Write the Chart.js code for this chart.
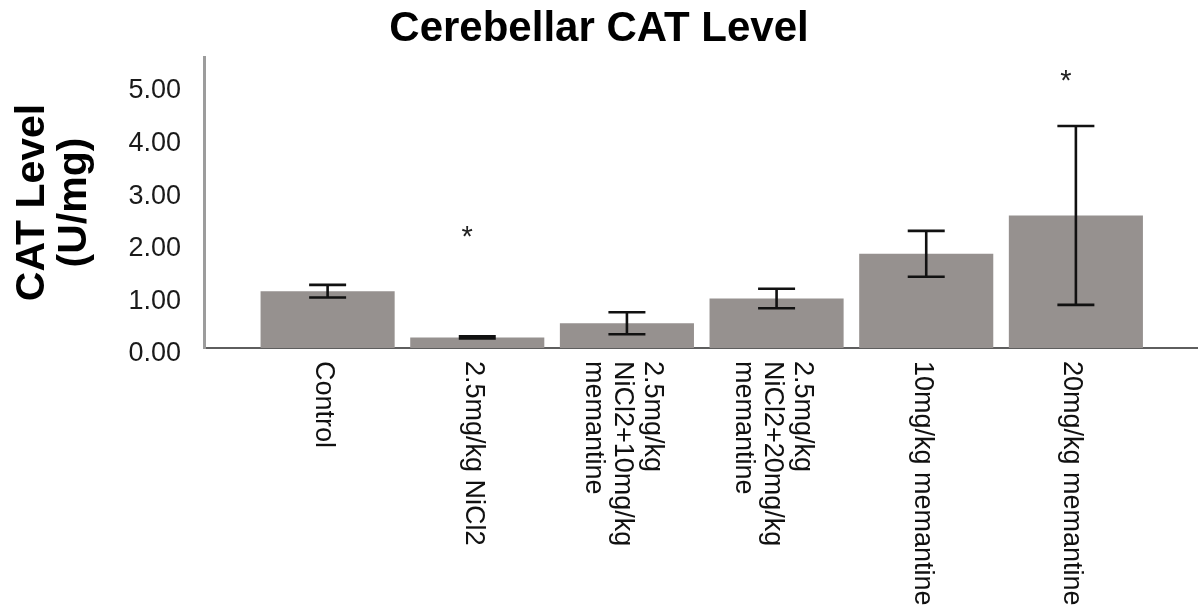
<!DOCTYPE html>
<html>
<head>
<meta charset="utf-8">
<title>Cerebellar CAT Level</title>
<style>
  html, body { margin: 0; padding: 0; background: #ffffff; }
  #wrap { width: 1198px; height: 614px; }
</style>
<script src="https://cdn.jsdelivr.net/npm/chart.js@4/dist/chart.umd.min.js"></script>
</head>
<body>
<div id="wrap"><canvas id="chart" width="1198" height="614"></canvas></div>
<script>
// Treatment groups (each entry = the lines of its axis label)
const groupLabels = [
  ['Control'],
  ['2.5mg/kg NiCl2'],
  ['2.5mg/kg', 'NiCl2+10mg/kg', 'memantine'],
  ['2.5mg/kg', 'NiCl2+20mg/kg', 'memantine'],
  ['10mg/kg memantine'],
  ['20mg/kg memantine']
];
// Mean CAT level (U/mg) per group
const catMeans = [1.08, 0.20, 0.47, 0.94, 1.79, 2.52];
// Error bar half-length (U/mg) per group
const catErrors = [0.12, 0.02, 0.21, 0.185, 0.435, 1.70];
// Height of the significance asterisk above each group (null = none)
const starLevels = [null, 2.26, null, null, null, 5.23];
// Value-axis tick labels
const yTicks = [0, 1, 2, 3, 4, 5];

const FONT = '"Liberation Sans", Arial, Helvetica, sans-serif';

// Error bars, significance marks and the rotated group labels
const overlay = {
  id: 'overlay',
  afterDatasetsDraw(chart) {
    const { ctx, scales: { x, y } } = chart;
    ctx.save();

    // error bars
    ctx.strokeStyle = '#111111';
    ctx.lineWidth = 2.6;
    ctx.lineCap = 'butt';
    const half = 18.5;
    catMeans.forEach((m, i) => {
      const cx = x.getPixelForValue(i);
      const hi = y.getPixelForValue(m + catErrors[i]);
      const lo = y.getPixelForValue(m - catErrors[i]);
      ctx.beginPath();
      ctx.moveTo(cx, hi); ctx.lineTo(cx, lo);
      ctx.moveTo(cx - half, hi); ctx.lineTo(cx + half, hi);
      ctx.moveTo(cx - half, lo); ctx.lineTo(cx + half, lo);
      ctx.stroke();
    });

    // asterisks
    ctx.fillStyle = '#222222';
    ctx.font = '29px ' + FONT;
    ctx.textAlign = 'center';
    ctx.textBaseline = 'alphabetic';
    starLevels.forEach((s, i) => {
      if (s === null) return;
      const cx = x.getPixelForValue(i) - 10;
      ctx.fillText('*', cx, y.getPixelForValue(s) + 17);
    });

    // group labels, rotated to read top-to-bottom
    const axisY = y.getPixelForValue(0);
    const lh = 29.5;
    ctx.fillStyle = '#111111';
    ctx.font = '27px ' + FONT;
    ctx.textAlign = 'left';
    ctx.textBaseline = 'middle';
    groupLabels.forEach((lines, i) => {
      const cx = x.getPixelForValue(i) - 4;
      const n = lines.length;
      ctx.save();
      ctx.translate(cx, axisY + 13);
      ctx.rotate(Math.PI / 2);
      lines.forEach((line, j) => {
        ctx.fillText(line, 0, (j - (n - 1) / 2) * lh);
      });
      ctx.restore();
    });

    ctx.restore();
  }
};

new Chart(document.getElementById('chart'), {
  type: 'bar',
  data: {
    datasets: [{
      data: catMeans.map((v, i) => ({ x: i, y: v })),
      backgroundColor: '#96918f',
      borderWidth: 0,
      categoryPercentage: 1.0,
      barPercentage: 0.896
    }]
  },
  options: {
    responsive: false,
    animation: false,
    devicePixelRatio: 1,
    layout: { padding: 0 },
    plugins: {
      legend: { display: false },
      tooltip: { enabled: false },
      title: {
        display: true,
        text: 'Cerebellar CAT Level',
        color: '#000000',
        font: { family: FONT, size: 42, weight: 'bold', lineHeight: 1.2 },
        padding: { top: 4, bottom: 2.6 }
      }
    },
    scales: {
      x: {
        type: 'linear',
        offset: false,
        min: -0.826,
        max: 5.816,
        z: 1,
        grid: { display: false },
        border: { display: true, color: '#5e5e5e', width: 2 },
        // one tick per group so bar widths follow the group spacing
        afterBuildTicks(scale) { scale.ticks = groupLabels.map((_, i) => ({ value: i })); },
        ticks: { display: false },
        afterFit(scale) { scale.height = 266; }
      },
      y: {
        min: 0,
        max: 5.53,
        grid: { display: false },
        border: { display: true, color: '#9c9c9c', width: 3 },
        afterBuildTicks(scale) { scale.ticks = yTicks.map(v => ({ value: v })); },
        ticks: {
          color: '#1a1a1a',
          font: { family: FONT, size: 27 },
          padding: 15,
          labelOffset: 6,
          callback: v => Number(v).toFixed(2)
        },
        title: {
          display: true,
          text: ['CAT Level', '(U/mg)'],
          color: '#000000',
          font: { family: FONT, size: 41, weight: 'bold', lineHeight: 1.02 },
          padding: { top: 12, bottom: 0 }
        },
        afterFit(scale) { scale.width = 204; }
      }
    }
  },
  plugins: [overlay]
});
</script>
</body>
</html>
